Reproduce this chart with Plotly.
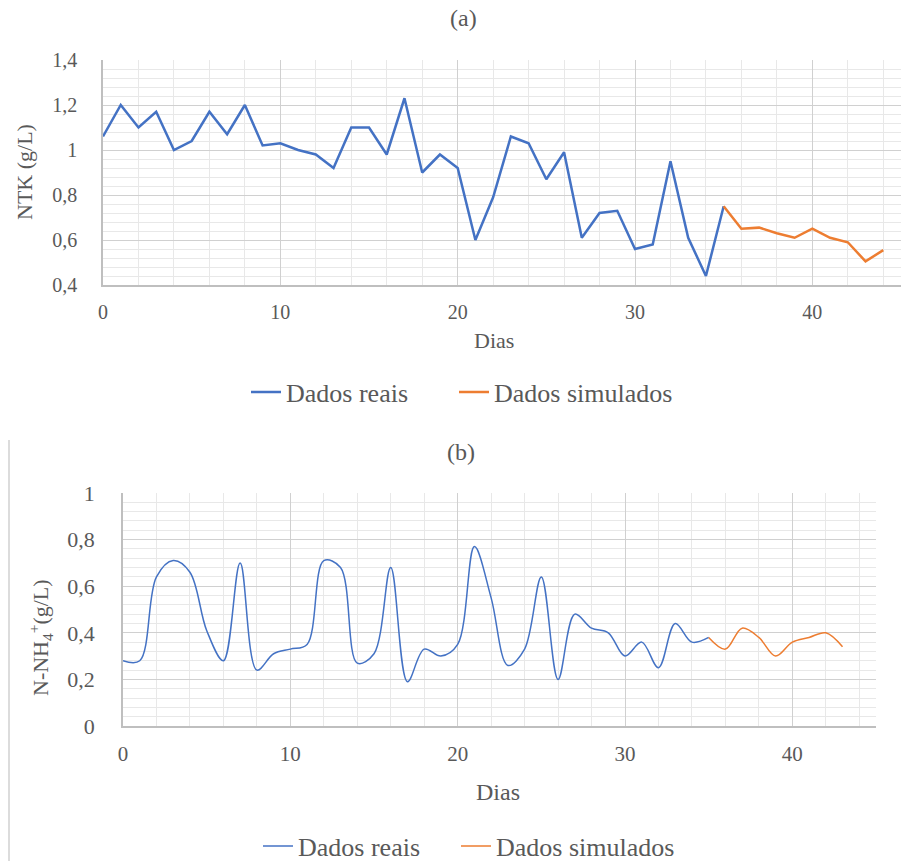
import plotly.graph_objects as go

# ---- data (a) NTK ----
days_a_real = list(range(0, 36))
ntk_real = [1.06, 1.20, 1.10, 1.17, 1.00, 1.04, 1.17, 1.07, 1.20, 1.02,
            1.03, 1.00, 0.98, 0.92, 1.10, 1.10, 0.98, 1.23, 0.90, 0.98,
            0.92, 0.60, 0.79, 1.06, 1.03, 0.87, 0.99, 0.61, 0.72, 0.73,
            0.56, 0.58, 0.95, 0.61, 0.44, 0.75]
days_a_sim = list(range(35, 45))
ntk_sim = [0.75, 0.65, 0.655, 0.63, 0.61, 0.65, 0.61, 0.59, 0.505, 0.555]

# ---- data (b) N-NH4+ ----
days_b_real = list(range(0, 36))
nh4_real = [0.28, 0.28, 0.64, 0.71, 0.66, 0.41, 0.28, 0.70, 0.24, 0.31,
            0.33, 0.35, 0.71, 0.68, 0.27, 0.31, 0.68, 0.19, 0.33, 0.30,
            0.35, 0.77, 0.55, 0.26, 0.33, 0.64, 0.20, 0.48, 0.42, 0.40,
            0.30, 0.36, 0.25, 0.44, 0.36, 0.38]
days_b_sim = list(range(35, 44))
nh4_sim = [0.38, 0.33, 0.42, 0.38, 0.30, 0.36, 0.38, 0.40, 0.34]

series_names = ["Dados reais", "Dados simulados"]
BLUE = "#4472C4"
ORANGE = "#ED7D31"
TXT = "#595959"
FONT = "Liberation Serif"

W, H = 907, 861
def px(x):
    return x / W
def py(y):
    return 1 - y / H

fig = go.Figure()
fig.add_trace(go.Scatter(x=days_a_real, y=ntk_real, mode="lines", name=series_names[0],
                         line=dict(color=BLUE, width=2.5), xaxis="x", yaxis="y", legend="legend"))
fig.add_trace(go.Scatter(x=days_a_sim, y=ntk_sim, mode="lines", name=series_names[1],
                         line=dict(color=ORANGE, width=2.5), xaxis="x", yaxis="y", legend="legend3"))
fig.add_trace(go.Scatter(x=days_b_real, y=nh4_real, mode="lines", name=series_names[0],
                         line=dict(color=BLUE, width=1.5, shape="spline", smoothing=1),
                         xaxis="x2", yaxis="y2", legend="legend2"))
fig.add_trace(go.Scatter(x=days_b_sim, y=nh4_sim, mode="lines", name=series_names[1],
                         line=dict(color=ORANGE, width=1.5, shape="spline", smoothing=1),
                         xaxis="x2", yaxis="y2", legend="legend4"))

MAJ = "#d0d0d0"
MIN = "#e8e8e8"
AX = "#bfbfbf"

def xax(domain, anchor, size):
    return dict(domain=domain, anchor=anchor, range=[0, 45], dtick=10, tick0=0,
                showgrid=True, gridcolor=MAJ, gridwidth=1,
                minor=dict(dtick=2, showgrid=True, gridcolor=MIN, gridwidth=1),
                showline=True, linecolor=AX, linewidth=1.5, zeroline=False,
                ticks="", ticklabelstandoff=8, automargin=False,
                tickfont=dict(family=FONT, size=size, color=TXT), fixedrange=True)

def yax(domain, anchor, rng, minor, size, standoff):
    return dict(domain=domain, anchor=anchor, range=rng, dtick=0.2,
                showgrid=True, gridcolor=MAJ, gridwidth=1,
                minor=dict(dtick=minor, showgrid=True, gridcolor=MIN, gridwidth=1),
                showline=True, linecolor=AX, linewidth=1.5, zeroline=False,
                ticks="", ticklabelstandoff=standoff, automargin=False,
                tickfont=dict(family=FONT, size=size, color=TXT), fixedrange=True)

def leg(xl, yc):
    return dict(orientation="h", x=px(xl), y=py(yc), xanchor="left", yanchor="middle",
                font=dict(family=FONT, size=26, color=TXT), bgcolor="rgba(0,0,0,0)")

annotations = [
    dict(text="(a)", x=px(463), y=py(18), xref="paper", yref="paper", showarrow=False,
         font=dict(family=FONT, size=24, color=TXT), xanchor="center", yanchor="middle"),
    dict(text="NTK (g/L)", x=px(24), y=py(172), xref="paper", yref="paper", showarrow=False,
         textangle=-90, font=dict(family=FONT, size=22, color=TXT), xanchor="center", yanchor="middle"),
    dict(text="Dias", x=px(494), y=py(340), xref="paper", yref="paper", showarrow=False,
         font=dict(family=FONT, size=22, color=TXT), xanchor="center", yanchor="middle"),
    dict(text="(b)", x=px(461), y=py(452), xref="paper", yref="paper", showarrow=False,
         font=dict(family=FONT, size=24, color=TXT), xanchor="center", yanchor="middle"),
    dict(text="N-NH<sub>4</sub><sup>+</sup>(g/L)", x=px(40), y=py(638), xref="paper", yref="paper",
         showarrow=False, textangle=-90, font=dict(family=FONT, size=22, color=TXT),
         xanchor="center", yanchor="middle"),
    dict(text="Dias", x=px(498), y=py(792), xref="paper", yref="paper", showarrow=False,
         font=dict(family=FONT, size=24, color=TXT), xanchor="center", yanchor="middle"),
]

fig.update_layout(
    width=W, height=H,
    font=dict(family=FONT, color=TXT),
    margin=dict(l=0, r=0, t=0, b=0, pad=0, autoexpand=False),
    paper_bgcolor="white", plot_bgcolor="white",
    separators=", ",
    xaxis=xax([px(103), px(901)], "y", 20),
    yaxis=yax([py(285), py(60)], "x", [0.4, 1.4], 0.04, 20, 20),
    xaxis2=xax([px(123), px(876)], "y2", 21),
    yaxis2=yax([py(726), py(493)], "x2", [0, 1], 0.04, 22, 22),
    legend=leg(246, 392),
    legend3=leg(454, 392),
    legend2=leg(258, 846),
    legend4=leg(456, 846),
    annotations=annotations,
    shapes=[dict(type="line", xref="paper", yref="paper", x0=px(9), x1=px(9), y0=py(440), y1=0,
                 line=dict(color="#d0d0d0", width=1.5))],
    showlegend=True,
)

fig.write_html("out.html", config={"displayModeBar": False},
               post_script="document.body.style.margin='0';document.body.style.overflow='hidden';")
